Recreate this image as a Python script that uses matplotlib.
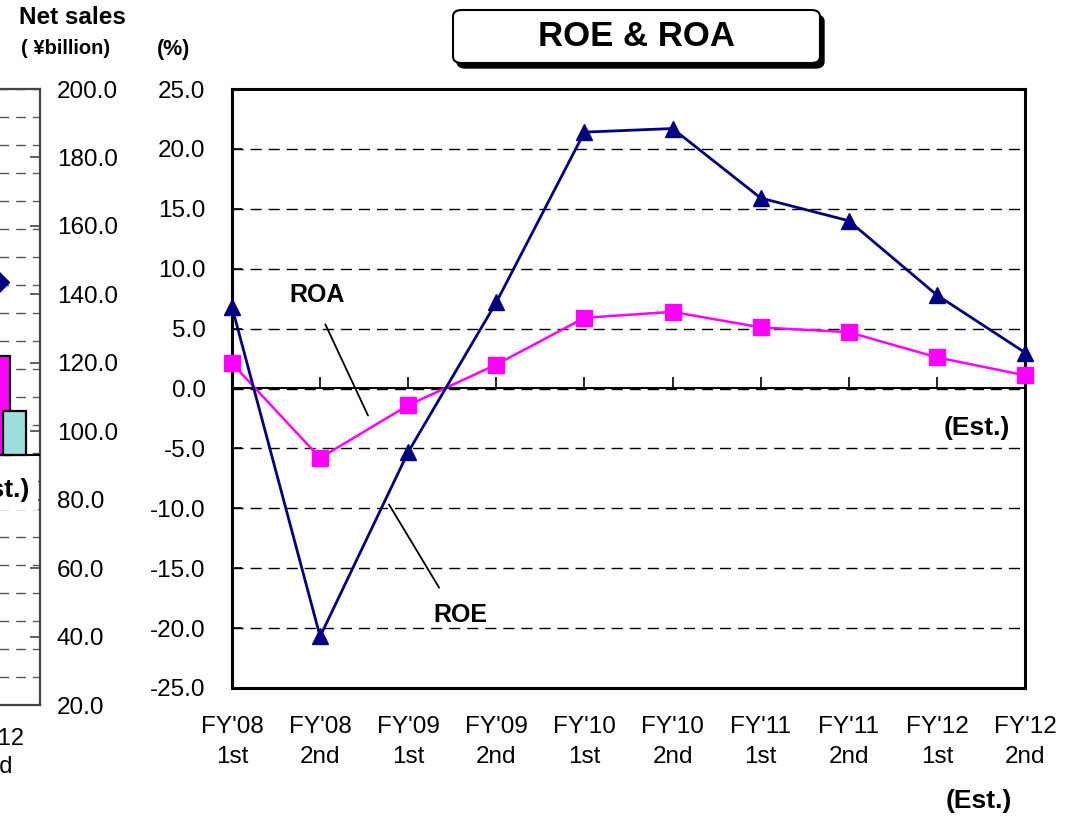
import numpy as np
import matplotlib
matplotlib.use('Agg')
import matplotlib.pyplot as plt
from matplotlib.patches import FancyBboxPatch

plt.rcParams.update({
    'font.family': ['Liberation Sans', 'DejaVu Sans'],
    'axes.unicode_minus': False,
})

# ── data ────────────────────────────────────────────────
periods = ["FY'08", "FY'08", "FY'09", "FY'09", "FY'10",
           "FY'10", "FY'11", "FY'11", "FY'12", "FY'12"]
halves = ["1st", "2nd", "1st", "2nd", "1st", "2nd", "1st", "2nd", "1st", "2nd"]
roe = [6.8, -20.7, -5.3, 7.2, 21.4, 21.7, 15.9, 14.0, 7.8, 3.0]
roa = [2.1, -5.8, -1.4, 2.0, 5.9, 6.4, 5.1, 4.7, 2.6, 1.1]

# neighbouring net-sales chart (only its right edge shows)
sales_ticks = [20, 40, 60, 80, 100, 120, 140, 160, 180, 200]
sales_base = 93.0
sales_upper = 122.0   # magenta bar
sales_lower = 106.0   # cyan bar
sales_point = 143.7   # diamond

NAVY = '#000080'
MAGENTA = '#ff00ff'
CYAN = '#a0dede'

W, H = 1075, 816
fig = plt.figure(figsize=(W / 100, H / 100), dpi=100)
fig.patch.set_facecolor('white')


def fx(px):
    return px / W


def fy(py):
    return 1 - py / H


# ── left (cropped) net sales chart ─────────────────────
ax_l = fig.add_axes([fx(-260), fy(705), fx(300), 616 / H])
ax_l.set_xlim(0, 10)
ax_l.set_ylim(0, 22)
ax_l.set_yticks(range(23))
ax_l.yaxis.grid(True, color='#555555', lw=1.0, ls=(0, (7, 5)))
ax_l.tick_params(left=False, labelleft=False, bottom=False, labelbottom=False)
for s in ['top', 'bottom', 'right']:
    ax_l.spines[s].set_color('#444444')
    ax_l.spines[s].set_linewidth(1.6)

ax_s = ax_l.twinx()
ax_s.set_ylim(20, 200)
ax_s.set_yticks(sales_ticks)
ax_s.set_yticklabels([f'{v:.1f}' for v in sales_ticks])
ax_s.tick_params(axis='y', direction='in', length=7, width=1.2, pad=12,
                 labelsize=17.5, colors='#444444', labelcolor='black')
for s in ax_s.spines.values():
    s.set_visible(False)
ax_s.bar(8.7, sales_upper - sales_base, 0.6, bottom=sales_base,
         color=MAGENTA, edgecolor='black', lw=1.6, zorder=2)
ax_s.bar(9.15, sales_lower - sales_base, 0.77, bottom=sales_base,
         color=CYAN, edgecolor='black', lw=1.6, zorder=3)
ax_s.axhline(sales_base, color='black', lw=1.5, zorder=4)
ax_s.plot([8.6], [sales_point], marker='D', ms=11, color=NAVY, zorder=5)

fig.text(fx(30), fy(490), '(Est.)', ha='right', va='center', fontsize=19,
         fontweight='bold', zorder=10,
         bbox=dict(facecolor='white', edgecolor='none', pad=6))
fig.text(fx(-6), fy(753), "FY'12\n2nd", ha='center', va='center',
         fontsize=17, linespacing=1.4)

fig.text(fx(72), fy(18), 'Net sales', ha='center', va='center',
         fontsize=17.5, fontweight='bold')
fig.text(fx(66), fy(48), '( ¥billion)', ha='center', va='center',
         fontsize=14.5, fontweight='bold')
fig.text(fx(174), fy(50), '(%)', ha='center', va='center',
         fontsize=15.5, fontweight='bold')

# ── main chart ─────────────────────────────────────────
ax = fig.add_axes([fx(232), fy(688), fx(793), 599 / H])
x = np.arange(len(roe))
ax.set_xlim(0, len(roe) - 1)
ax.set_ylim(-25, 25)
yt = np.arange(-25, 26, 5)
ax.set_yticks(yt)
ax.set_yticklabels([f'{v:.1f}' for v in yt])
ax.yaxis.grid(True, color='black', lw=1.0, ls=(0, (8, 5)))
ax.set_axisbelow(True)
ax.tick_params(axis='y', direction='in', length=7, width=1.2, pad=19,
               labelsize=17.5)
ax.set_xticks(x)
ax.set_xticklabels([f'{p}\n{h}' for p, h in zip(periods, halves)])
ax.tick_params(axis='x', length=0, pad=20, labelsize=17.5)
for lbl in ax.get_xticklabels():
    lbl.set_linespacing(1.5)
for s in ax.spines.values():
    s.set_linewidth(2.2)

# zero line with category ticks (pointing up)
sec = ax.secondary_xaxis(0.5)
sec.set_xticks(x)
sec.set_xticklabels([''] * len(x))
sec.tick_params(direction='out', length=8, width=1.2,
                labeltop=False, labelbottom=False)
for s in sec.spines.values():
    s.set_linewidth(1.4)

ax.plot(x, roa, color=MAGENTA, lw=1.8, marker='s', ms=11, clip_on=False,
        zorder=4)
ax.plot(x, roe, color=NAVY, lw=2.0, marker='^', ms=11, clip_on=False,
        zorder=5)


def px2d(px, py):
    return (px - 232) / (793 / 9), (388 - py) / (599 / 50)


ax.annotate('ROA', xy=px2d(368, 415), xytext=px2d(317, 294),
            ha='center', va='center', fontsize=18, fontweight='bold',
            arrowprops=dict(arrowstyle='-', color='black', lw=1.3,
                            relpos=(0.5, 0), shrinkA=12, shrinkB=0))
ax.annotate('ROE', xy=px2d(389, 504), xytext=px2d(460, 615),
            ha='center', va='center', fontsize=18, fontweight='bold',
            arrowprops=dict(arrowstyle='-', color='black', lw=1.3,
                            relpos=(0.29, 1), shrinkA=11, shrinkB=0))
ax.text(*px2d(1010, 427), '(Est.)', ha='right', va='center',
        fontsize=19, fontweight='bold')
fig.text(fx(979), fy(801), '(Est.)', ha='center', va='center',
         fontsize=19, fontweight='bold')

# ── title box with shadow ──────────────────────────────
bx0, by0, bx1, by1 = 453, 10, 820, 63
shadow = FancyBboxPatch((fx(bx0 + 4), fy(by1 + 5)), fx(bx1 - bx0), (by1 - by0) / H,
                        boxstyle='round,pad=0,rounding_size=0.008',
                        transform=fig.transFigure, facecolor='black',
                        edgecolor='black', lw=1)
box = FancyBboxPatch((fx(bx0), fy(by1)), fx(bx1 - bx0), (by1 - by0) / H,
                     boxstyle='round,pad=0,rounding_size=0.008',
                     transform=fig.transFigure, facecolor='white',
                     edgecolor='black', lw=1.5)
fig.patches.extend([shadow, box])
fig.text(fx(637), fy(37), 'ROE & ROA', ha='center', va='center',
         fontsize=25, fontweight='bold')

fig.savefig('out.png', dpi=100)
